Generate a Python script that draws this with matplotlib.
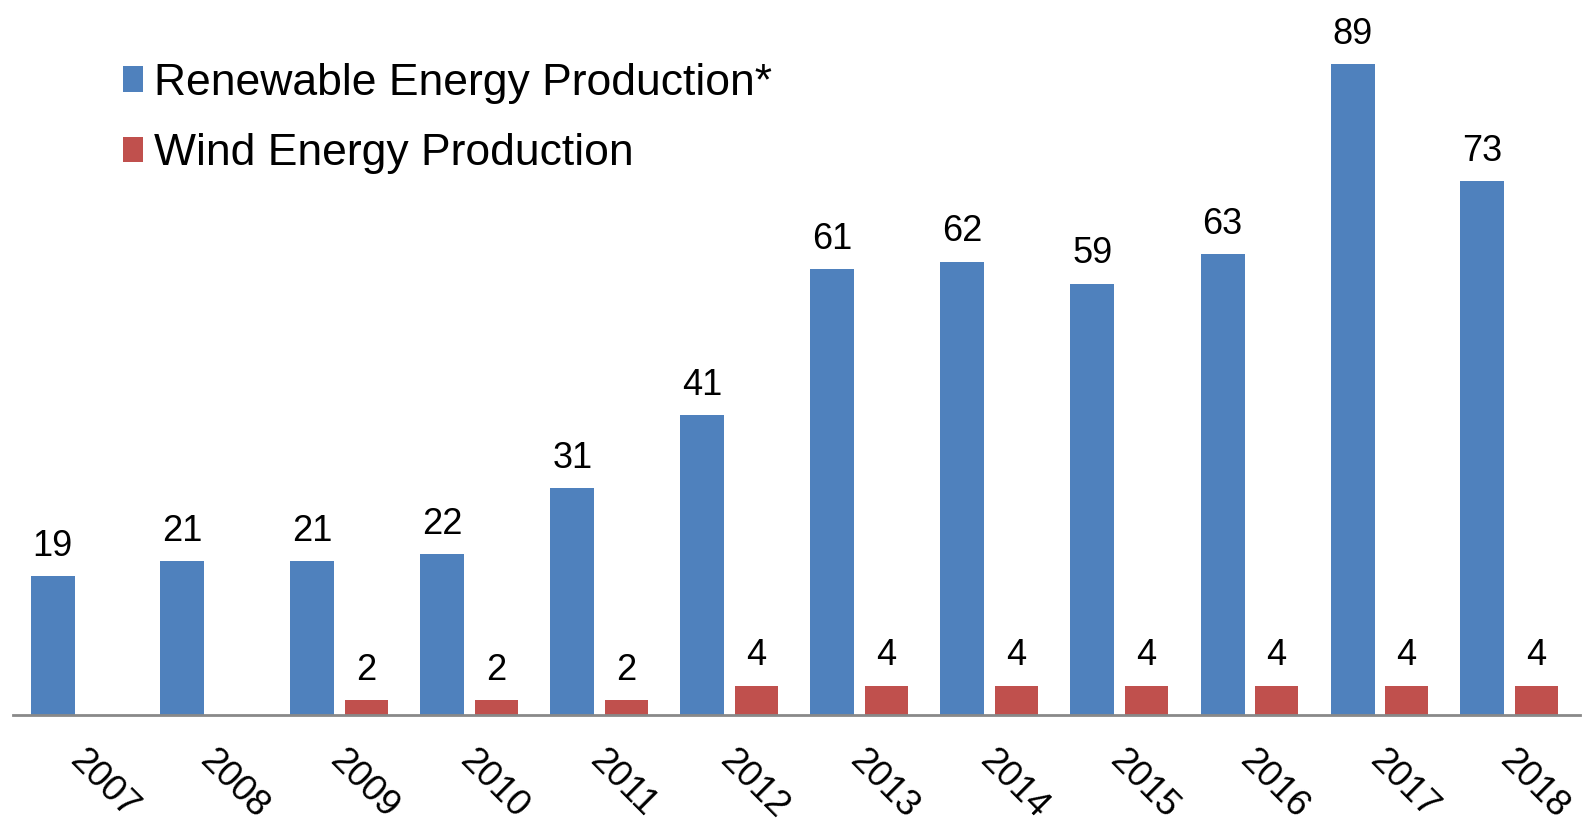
import numpy as np
import matplotlib
matplotlib.use("Agg")
import matplotlib.pyplot as plt

plt.rcParams['font.family'] = ['Liberation Sans', 'DejaVu Sans']

years = ["2007", "2008", "2009", "2010", "2011", "2012",
         "2013", "2014", "2015", "2016", "2017", "2018"]
renewable = [19, 21, 21, 22, 31, 41, 61, 62, 59, 63, 89, 73]
wind = [None, None, 2, 2, 2, 4, 4, 4, 4, 4, 4, 4]

blue = "#4F81BD"
red = "#C0504D"

W, H = 1584, 822
fig = plt.figure(figsize=(W / 100, H / 100), dpi=100)
ax = fig.add_axes([13 / W, (H - 715) / H, (1580 - 13) / W, 715 / H])

x = np.arange(len(years))
off = 27 / 130
bw_blue = 44 / 130
bw_red = 43 / 130

b1 = ax.bar(x - off, renewable, width=bw_blue, color=blue,
            label="Renewable Energy Production*")
wx = np.array([i for i, v in enumerate(wind) if v is not None])
wv = np.array([v for v in wind if v is not None])
b2 = ax.bar(wx + off, wv, width=bw_red, color=red,
            label="Wind Energy Production")

# value labels above bars
for xi, v in zip(x - off, renewable):
    ax.annotate(str(v), (xi, v), xytext=(0, 9), textcoords="offset points",
                ha="center", va="bottom", fontsize=26)
for xi, v in zip(wx + off, wv):
    ax.annotate(str(v), (xi, v), xytext=(0, 9), textcoords="offset points",
                ha="center", va="bottom", fontsize=26)

ax.set_xlim(-0.5 - 1.5 / 130, 11.5 + 5.5 / 130)
ax.set_ylim(0, 715 / 7.31)

# rotated year labels
ax.set_xticks([])
for xi, lab in zip(x, years):
    ax.annotate(lab, (xi, 0), xycoords=("data", "axes fraction"),
                xytext=(-3, -29), textcoords="offset points",
                rotation=-45, rotation_mode="anchor",
                ha="left", va="center", fontsize=26.5, annotation_clip=False)

for s in ["top", "right", "left"]:
    ax.spines[s].set_visible(False)
ax.spines["bottom"].set_color("#898989")
ax.spines["bottom"].set_linewidth(2)
ax.set_yticks([])

ax.legend(handles=[b1, b2], loc="upper left",
          bbox_to_anchor=(92 / (1580 - 13), 1 - 45 / 715),
          frameon=False, fontsize=32, handlelength=0.45, handleheight=0.5,
          handletextpad=0.25, labelspacing=0.66, borderaxespad=0)

fig.savefig("out.png", dpi=100)
